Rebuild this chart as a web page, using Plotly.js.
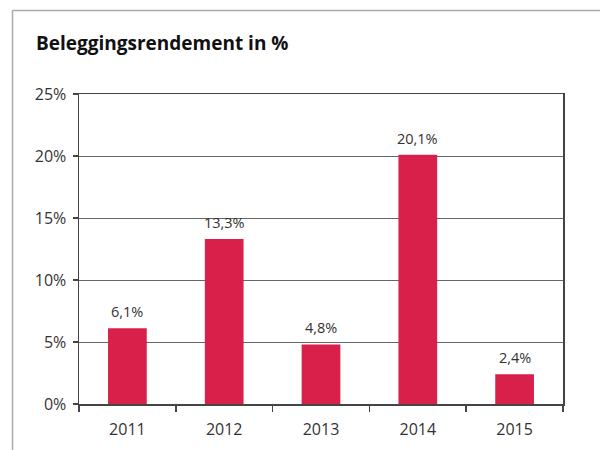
<!DOCTYPE html>
<html>
<head>
<meta charset="utf-8">
<script src="https://cdn.plot.ly/plotly-3.0.1.min.js"></script>
<style>html,body{margin:0;padding:0;background:#fff;}#chart{width:600px;height:450px;}</style>
</head>
<body>
<div id="chart"></div>
<script>
const years = ["2011", "2012", "2013", "2014", "2015"];
const returns = [6.1, 13.3, 4.8, 20.1, 2.4];
const labels = ["6,1%", "13,3%", "4,8%", "20,1%", "2,4%"];
const yTicks = [0, 5, 10, 15, 20, 25];
const yTickText = ["0%", "5%", "10%", "15%", "20%", "25%"];

const trace = {
  type: "bar",
  x: years,
  y: returns,
  marker: {color: "#D9204A"},
  hoverinfo: "none"
};

const annotations = years.map((yr, i) => ({
  x: i, y: returns[i], xref: "x", yref: "y",
  text: labels[i], showarrow: false,
  yanchor: "bottom", yshift: 5,
  font: {family: "Open Sans", size: 14.5, color: "#333"}
}));
annotations.push({
  xref: "paper", yref: "paper", x: -0.094, y: 1.1645,
  xanchor: "left", yanchor: "middle",
  text: "<b>Beleggingsrendement in %</b>", showarrow: false,
  font: {family: "Open Sans", size: 19, color: "#111"}
});

const layout = {
  width: 600, height: 450,
  margin: {l: 79, r: 37, t: 94, b: 46},
  paper_bgcolor: "#fff", plot_bgcolor: "#fff",
  showlegend: false,
  bargap: 0.6,
  font: {family: "Open Sans", size: 16, color: "#333"},
  xaxis: {
    type: "category",
    categoryorder: "array", categoryarray: years,
    range: [-0.5, 4.5],
    tickson: "boundaries",
    tickangle: 0,
    ticks: "outside", ticklen: 6, tickwidth: 1.5, tickcolor: "#444",
    ticklabelstandoff: 10,
    showline: true, linecolor: "#444", linewidth: 1.5, mirror: true,
    showgrid: false,
    tickfont: {family: "Open Sans", size: 16, color: "#333"}
  },
  yaxis: {
    range: [0, 25],
    tickvals: yTicks, ticktext: yTickText,
    ticks: "outside", ticklen: 5, tickwidth: 1.5, tickcolor: "#444",
    ticklabelstandoff: 3,
    showline: true, linecolor: "#444", linewidth: 1.5, mirror: true,
    showgrid: true, gridcolor: "#666", gridwidth: 1,
    zeroline: false,
    tickfont: {family: "Open Sans", size: 16, color: "#333"}
  },
  annotations: annotations,
  shapes: [
    {type: "line", xref: "paper", yref: "paper", x0: -0.1374, x1: 1.12, y0: 1.2694, y1: 1.2694, line: {color: "#aaa", width: 1.5}},
    {type: "line", xref: "paper", yref: "paper", x0: -0.1374, x1: -0.1374, y0: 1.2694, y1: -0.16, line: {color: "#aaa", width: 1.5}}
  ]
};

Plotly.newPlot("chart", [trace], layout, {displayModeBar: false, staticPlot: true});
</script>
</body>
</html>
